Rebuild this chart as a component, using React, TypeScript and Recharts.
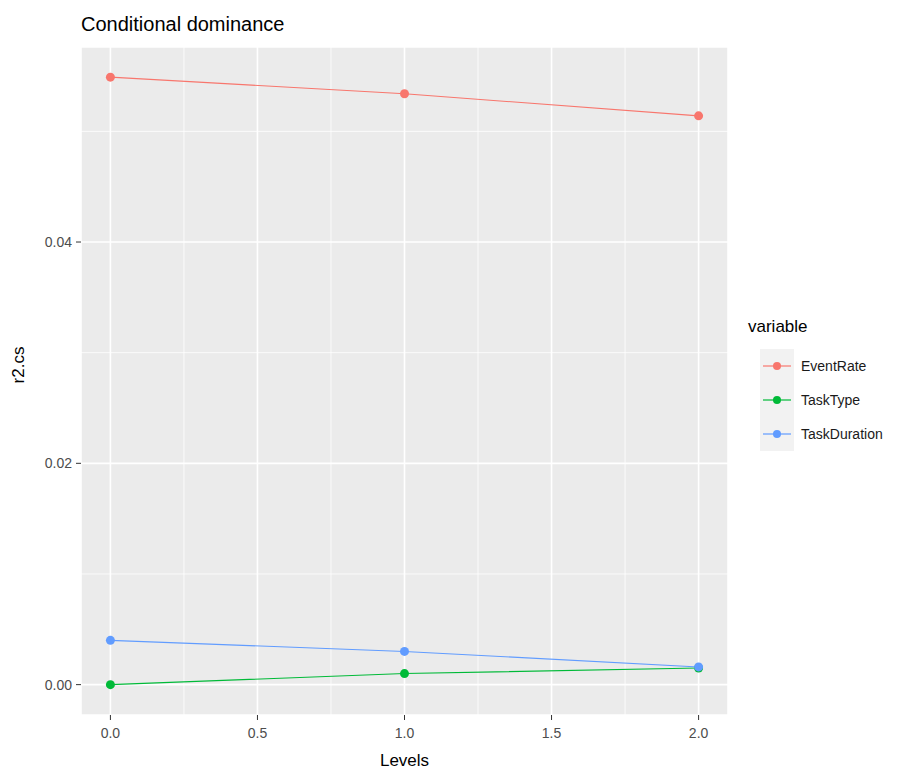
import React from 'react';
import { LineChart, Line, XAxis, YAxis, CartesianGrid, ReferenceLine } from 'recharts';

// values
const levels = [0, 1, 2];
const eventRate = [0.0549, 0.0534, 0.0514];
const taskType = [0.0, 0.001, 0.0015];
const taskDuration = [0.004, 0.003, 0.0016];

const seriesNames = ['EventRate', 'TaskType', 'TaskDuration'];
const seriesColors = ['#F8766D', '#00BA38', '#619CFF'];

const xTicks = [0, 0.5, 1, 1.5, 2];
const xMinor = [0.25, 0.75, 1.25, 1.75];
const yTicks = [0, 0.02, 0.04];
const yMinor = [0.01, 0.03, 0.05];

const data = levels.map((lv, i) => ({
  level: lv,
  EventRate: eventRate[i],
  TaskType: taskType[i],
  TaskDuration: taskDuration[i],
}));

const FONT = '"Liberation Sans", Arial, sans-serif';

const LegendBox = () => (
  <div style={{ fontFamily: FONT }}>
    <div style={{ fontSize: 17, color: '#000', height: 34, lineHeight: '24px' }}>variable</div>
    {seriesNames.map((name, i) => (
      <div key={name} style={{ display: 'flex', alignItems: 'center', height: 34 }}>
        <svg width={34} height={34} style={{ marginLeft: 12, background: '#F2F2F2' }}>
          <line x1={3} x2={31} y1={17} y2={17} stroke={seriesColors[i]} strokeWidth={1.2} />
          <circle cx={17} cy={17} r={4} fill={seriesColors[i]} />
        </svg>
        <span style={{ fontSize: 14, color: '#1A1A1A', marginLeft: 7 }}>{name}</span>
      </div>
    ))}
  </div>
);

const YLabel = ({ viewBox }: any) => {
  const cy = viewBox.y + viewBox.height / 2 - 16;
  return (
    <text x={24} y={cy} transform={`rotate(-90, 24, ${cy})`} textAnchor="middle" fontSize={17} fill="#000" fontFamily={FONT}>
      r2.cs
    </text>
  );
};

const XLabel = ({ viewBox }: any) => {
  const cx = viewBox.x + viewBox.width / 2;
  return (
    <text x={cx} y={766} textAnchor="middle" fontSize={17} fill="#000" fontFamily={FONT}>
      Levels
    </text>
  );
};

export default function App() {
  return (
    <div style={{ position: 'absolute', left: 0, top: 0, width: 915, height: 771, background: '#fff', fontFamily: FONT }}>
      <div style={{ position: 'absolute', left: 81, top: 13, fontSize: 20, color: '#000' }}>Conditional dominance</div>
      <LineChart width={915} height={771} data={data} margin={{ top: 47, right: 187, bottom: 26, left: 0 }}>
        <CartesianGrid fill="#EBEBEB" stroke="#FFFFFF" strokeWidth={1.6} />
        {xMinor.map((v) => (
          <ReferenceLine key={'x' + v} x={v} stroke="#FFFFFF" strokeWidth={0.8} />
        ))}
        {yMinor.map((v) => (
          <ReferenceLine key={'y' + v} y={v} stroke="#FFFFFF" strokeWidth={0.8} />
        ))}
        <XAxis
          dataKey="level"
          type="number"
          domain={[-0.1, 2.1]}
          ticks={xTicks}
          allowDataOverflow
          tickFormatter={(v) => Number(v).toFixed(1)}
          axisLine={false}
          tickLine={{ stroke: '#333333' }}
          tickSize={5}
          tickMargin={8}
          tick={{ fill: '#4D4D4D', fontSize: 14, fontFamily: FONT }}
          height={30}
          label={<XLabel />}
        />
        <YAxis
          type="number"
          domain={[-0.002744, 0.057624]}
          ticks={yTicks}
          allowDataOverflow
          tickFormatter={(v) => Number(v).toFixed(2)}
          axisLine={false}
          tickLine={{ stroke: '#333333' }}
          tickSize={5}
          tickMargin={4}
          tick={{ fill: '#4D4D4D', fontSize: 14, fontFamily: FONT }}
          width={81}
          label={<YLabel />}
        />
        {seriesNames.map((name, i) => (
          <Line
            key={name}
            dataKey={name}
            stroke={seriesColors[i]}
            strokeWidth={1.1}
            dot={{ r: 4.5, fill: seriesColors[i], stroke: seriesColors[i], strokeWidth: 0 }}
            activeDot={false}
            isAnimationActive={false}
          />
        ))}
      </LineChart>
      <div style={{ position: 'absolute', left: 748, top: 315 }}>
        <LegendBox />
      </div>
    </div>
  );
}
